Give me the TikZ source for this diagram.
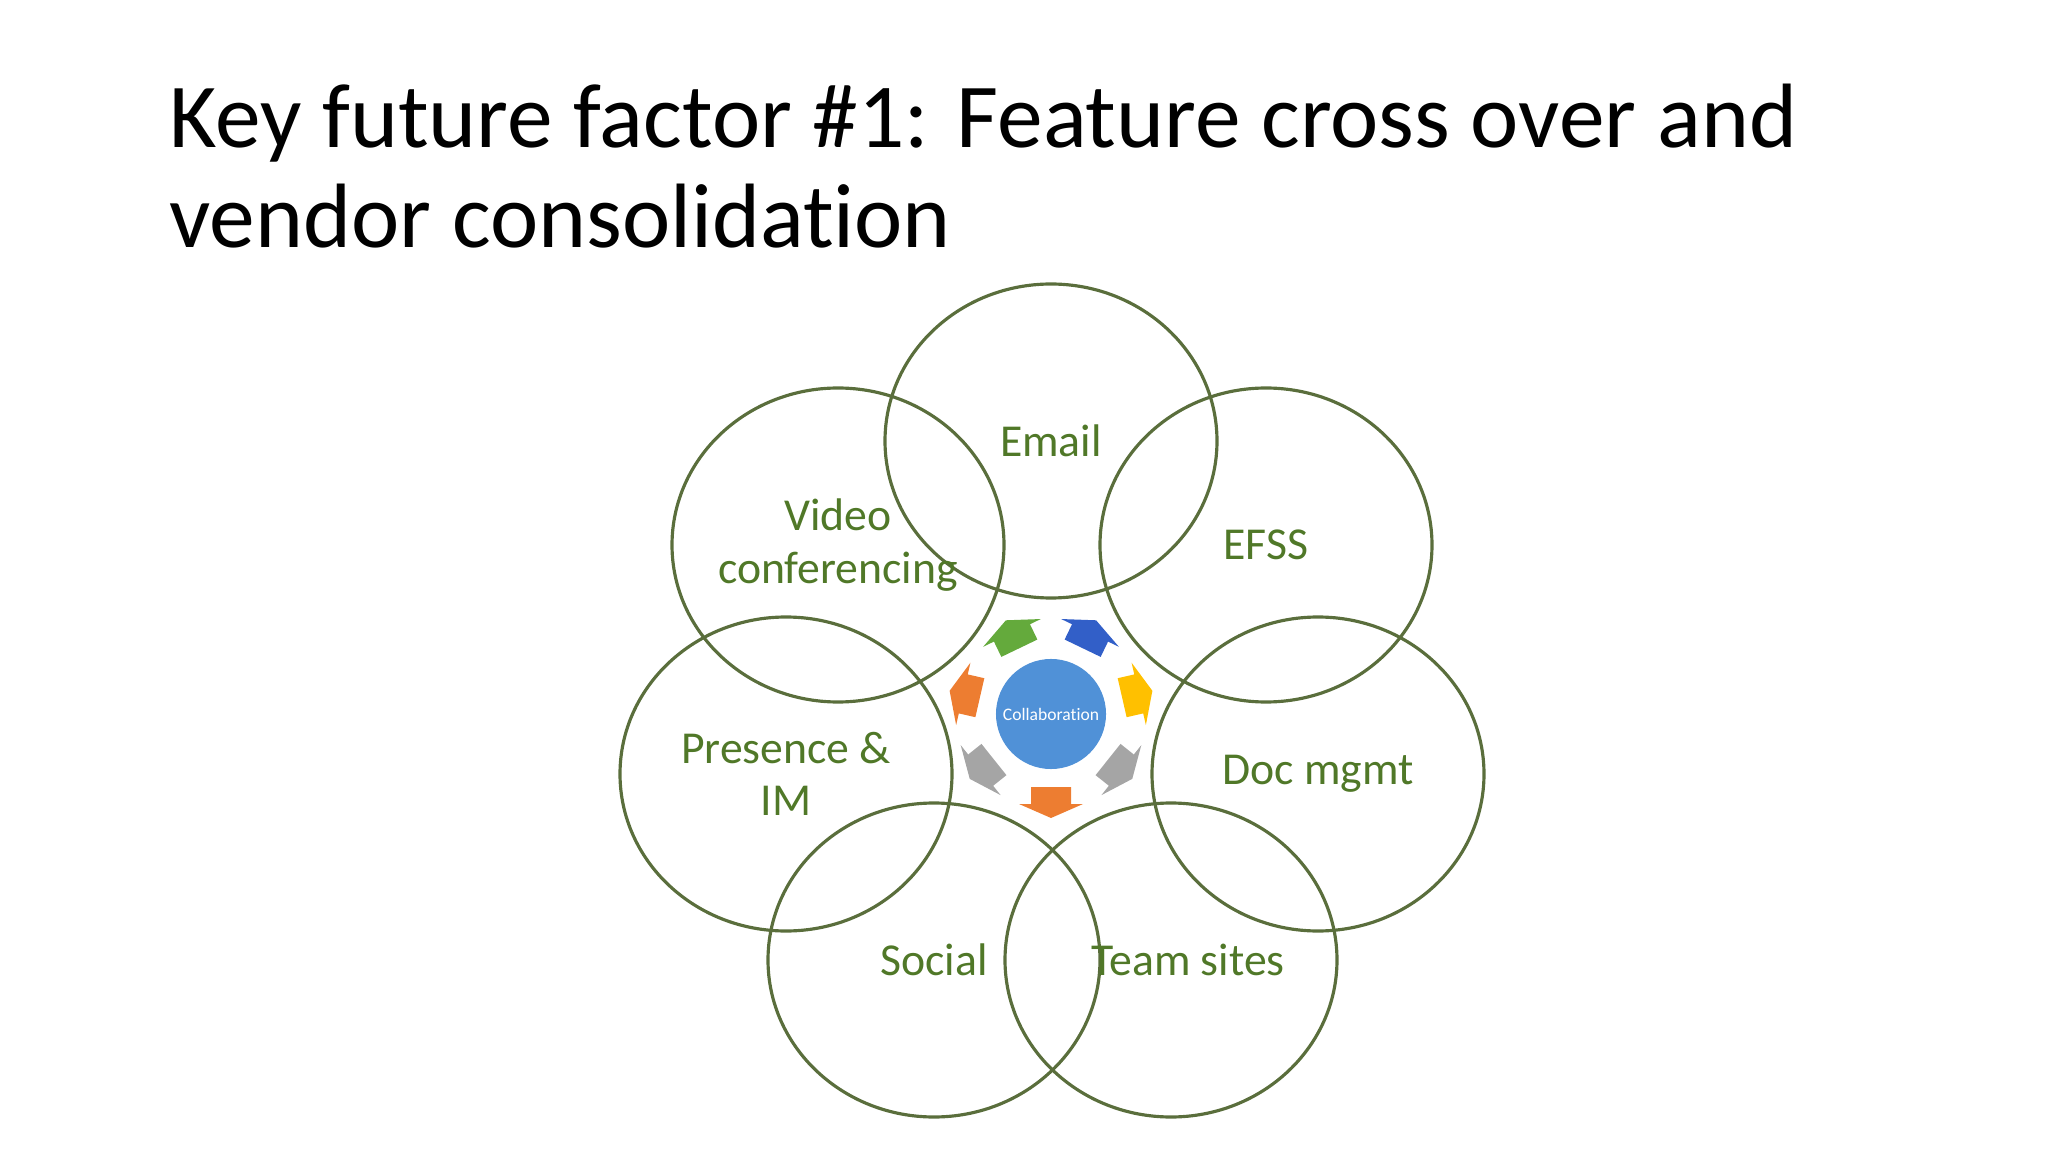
\documentclass[tikz,border=0pt]{standalone}
\usepackage{fontspec}
\setmainfont[Ligatures=NoCommon]{Carlito}
\definecolor{ring}{RGB}{90,110,60}
\definecolor{labc}{RGB}{80,120,40}
\definecolor{corange}{RGB}{237,125,49}
\definecolor{cgray}{RGB}{165,165,165}
\definecolor{cyellow}{RGB}{255,192,0}
\definecolor{cblue}{RGB}{50,95,200}
\definecolor{cgreen}{RGB}{100,170,60}
\definecolor{ccenter}{RGB}{80,145,215}
\begin{document}
\begin{tikzpicture}[x=0.01cm,y=-0.01cm,
  petal/.style={draw=ring,line width=0.9pt},
  lab/.style={text=labc,font=\fontsize{13}{15}\selectfont,align=center}]
\useasboundingbox (0,0) rectangle (2048,1152);
\node[anchor=base west,font=\fontsize{26}{32}\selectfont] (t1) at (157,148) {Key future factor \#1: Feature cross over and};
\node[anchor=base west,font=\fontsize{26}{32}\selectfont] (t2) at (157,248) {vendor consolidation};
\foreach \x/\y in {1051/441,838/545,1266/545,786/774,1318/774,934/960,1171/960}
  \draw[petal] (\x,\y) ellipse [x radius=166,y radius=157];
\node[lab] (le) at (1051,441) {Email};
\node[lab] (lv) at (838,545) {Video\\conferencing};
\node[lab] (lf) at (1266,545) {EFSS};
\node[lab] (lp) at (786,774) {Presence \&\\IM};
\node[lab] (ld) at (1318,774) {Doc mgmt};
\node[lab] (ls) at (934,960) {Social};
\node[lab] (lt) at (1188,960) {Team sites};
\foreach \a/\c in {90/corange,38.6/cgray,-12.9/cyellow,-64.3/cblue,-115.7/cgreen,-167.1/corange,-218.6/cgray}
  \fill[fill=\c,shift={(1051,714)},rotate=-\a,shift={(88,0)},rotate=-90]
    (-20,15) -- (20,15) -- (20,-2) -- (32,-2) -- (0,-16) -- (-32,-2) -- (-20,-2) -- cycle;
\node[circle,minimum size=1.1cm,inner sep=0,fill=ccenter,text=white,font=\fontsize{5}{6}\selectfont] (c) at (1051,714) {Collaboration};
\end{tikzpicture}
\end{document}
